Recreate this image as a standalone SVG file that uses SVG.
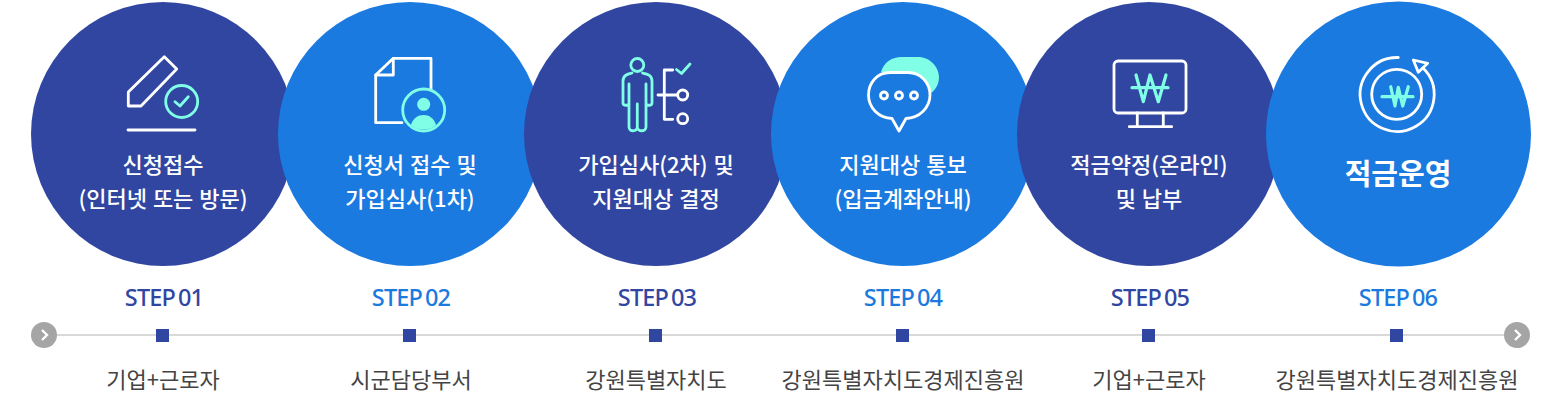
<svg xmlns="http://www.w3.org/2000/svg" width="1554" height="418" viewBox="0 0 1554 418">
<style>
text{font-family:"Noto Sans CJK KR","Noto Sans",sans-serif;text-anchor:middle}
.d{fill:#3146a1}.b{fill:#1b7ae0}
.t{fill:#fff;font-size:22px;font-weight:500;word-spacing:1px}
.s{font-family:"Noto Sans","Open Sans",sans-serif;font-size:23.500px;font-weight:500;letter-spacing:-.9px;word-spacing:-2px}
.o{fill:#444;font-size:22px;font-weight:400}
.w{fill:none;stroke:#fff;stroke-width:2.8;stroke-linejoin:round;stroke-linecap:round}
.m{fill:none;stroke:#80ffe6;stroke-width:2.8;stroke-linejoin:round;stroke-linecap:round}
.f{fill:#80ffe6}
</style>
<g id="connectors">
<line x1="44" y1="335" x2="1517" y2="335" stroke="#ccc" stroke-width="1.5"/>
</g>
<g id="start"><circle cx="44" cy="335" r="13" fill="#a5a5a5"/><path d="M42 330l5 5l-5 5" fill="none" stroke="#fff" stroke-width="2.4"/></g>
<g id="end"><circle cx="1517" cy="335" r="13" fill="#a5a5a5"/><path d="M1515 330l5 5l-5 5" fill="none" stroke="#fff" stroke-width="2.4"/></g>
<g id="step1">
<circle class="d" cx="163" cy="134" r="132"/>
<path class="w" d="M128.300 92L164.300 56.700L176.700 69L141 106H128.300Z"/>
<line class="w" x1="128" y1="130" x2="195" y2="130"/>
<circle class="m" cx="181.700" cy="101.500" r="16"/>
<path class="m" d="M175 101.700l5 4.300l8.300-9.300"/>
<text class="t" x="163" y="173">신청접수</text>
<text class="t" x="163" y="207">(인터넷 또는 방문)</text>
<text class="s d" x="164" y="306">STEP 01</text>
<rect class="d" x="156" y="329" width="13" height="13"/>
<text class="o" x="163" y="388">기업+근로자</text>
</g>
<g id="step2">
<circle class="b" cx="410" cy="134" r="132"/>
<path class="w" d="M431 90V58.300H393.300L375.700 75V122.700H402"/>
<path class="w" d="M393.300 58.300V75H375.700"/>
<circle class="b" cx="423.700" cy="110" r="21"/>
<circle class="m" cx="423.700" cy="110" r="21"/>
<circle class="f" cx="423.700" cy="104.300" r="6.500"/>
<path class="f" d="M411 125C413 118 418 115 423.700 115C429 115 434 118 436 125C430 131 417 131 411 125Z"/>
<text class="t" x="410" y="173">신청서 접수 및</text>
<text class="t" x="410" y="207">가입심사(1차)</text>
<text class="s b" x="411" y="306">STEP 02</text>
<rect class="d" x="403" y="329" width="13" height="13"/>
<text class="o" x="411" y="388">시군담당부서</text>
</g>
<g id="step3">
<circle class="d" cx="656" cy="134" r="132"/>
<circle class="m" cx="637.300" cy="65" r="6.500"/>
<path class="m" d="M632 73C628 74 623 75 623 81V103C623 106 629 106 629 103V84M629 103V127C629 132 637 132 637.300 127V104M637.300 127C637.500 132 646 132 646 127V84M646 103C646 106 652 106 652 103V81C652 75 647 74 642.500 73"/>
<path class="w" d="M672.700 70H664.300V119.300H672.700M658 95H677"/>
<path class="m" d="M676.500 69.500l5 4l8.500-9.500"/>
<circle class="w" cx="682.700" cy="95" r="5"/>
<circle class="w" cx="682.700" cy="118.700" r="5"/>
<text class="t" x="656" y="173">가입심사(2차) 및</text>
<text class="t" x="656" y="207">지원대상 결정</text>
<text class="s d" x="657" y="306">STEP 03</text>
<rect class="d" x="649" y="329" width="13" height="13"/>
<text class="o" x="656" y="388">강원특별자치도</text>
</g>
<g id="step4">
<circle class="b" cx="903" cy="134" r="132"/>
<path class="f" d="M881 72C884 62 892 57 902 57H918C930 57 939 67 939 77C939 85 935 91 928 95L900 80Z"/>
<path class="w" style="fill:#1b7ae0" d="M890 72.500H908C921 72.500 930 83 930 95C930 108 919 118 906 118.500L899 131L892 118.500C879 118 868.500 108 868.500 95C868.500 83 877 72.500 890 72.500Z"/>
<circle class="w" cx="884" cy="95.500" r="3.500"/>
<circle class="w" cx="899" cy="95.500" r="3.500"/>
<circle class="w" cx="914" cy="95.500" r="3.500"/>
<text class="t" x="903" y="173">지원대상 통보</text>
<text class="t" x="903" y="207">(입금계좌안내)</text>
<text class="s b" x="903" y="306">STEP 04</text>
<rect class="d" x="896" y="329" width="13" height="13"/>
<text class="o" x="903" y="388">강원특별자치도경제진흥원</text>
</g>
<g id="step5">
<circle class="d" cx="1149" cy="134" r="132"/>
<rect class="w" x="1114" y="61" width="72" height="52" rx="4"/>
<path class="w" d="M1137.300 113V126.700M1163.300 113V126.700M1129.300 126.700H1171.700"/>
<path class="m" style="stroke-width:3.200" d="M1136 75L1143.300 101.700L1150 75L1158.300 101.700L1166 75M1132 87.700H1168"/>
<text class="t" x="1149" y="173">적금약정(온라인)</text>
<text class="t" x="1149" y="207">및 납부</text>
<text class="s d" x="1150" y="306">STEP 05</text>
<rect class="d" x="1142" y="329" width="13" height="13"/>
<text class="o" x="1149" y="388">기업+근로자</text>
</g>
<g id="step6">
<circle class="b" cx="1398.500" cy="134" r="132.500"/>
<path class="w" d="M1398.300 57.500A37 37 0 1 0 1423 68"/>
<path class="w" d="M1413.300 60L1427.700 63.300L1418.300 72.300Z"/>
<circle class="w" cx="1396.700" cy="94.300" r="25"/>
<path class="m" style="stroke-width:3.200" d="M1390.700 86.700L1395 106L1398.300 87.300L1402.700 106L1408.300 86.700M1382 96.700H1413"/>
<text x="1398" y="185" style="fill:#fff;font-size:29px;font-weight:700">적금운영</text>
<text class="s b" x="1398" y="306">STEP 06</text>
<rect class="d" x="1390" y="329" width="13" height="13"/>
<text class="o" x="1397" y="388">강원특별자치도경제진흥원</text>
</g>
</svg>
